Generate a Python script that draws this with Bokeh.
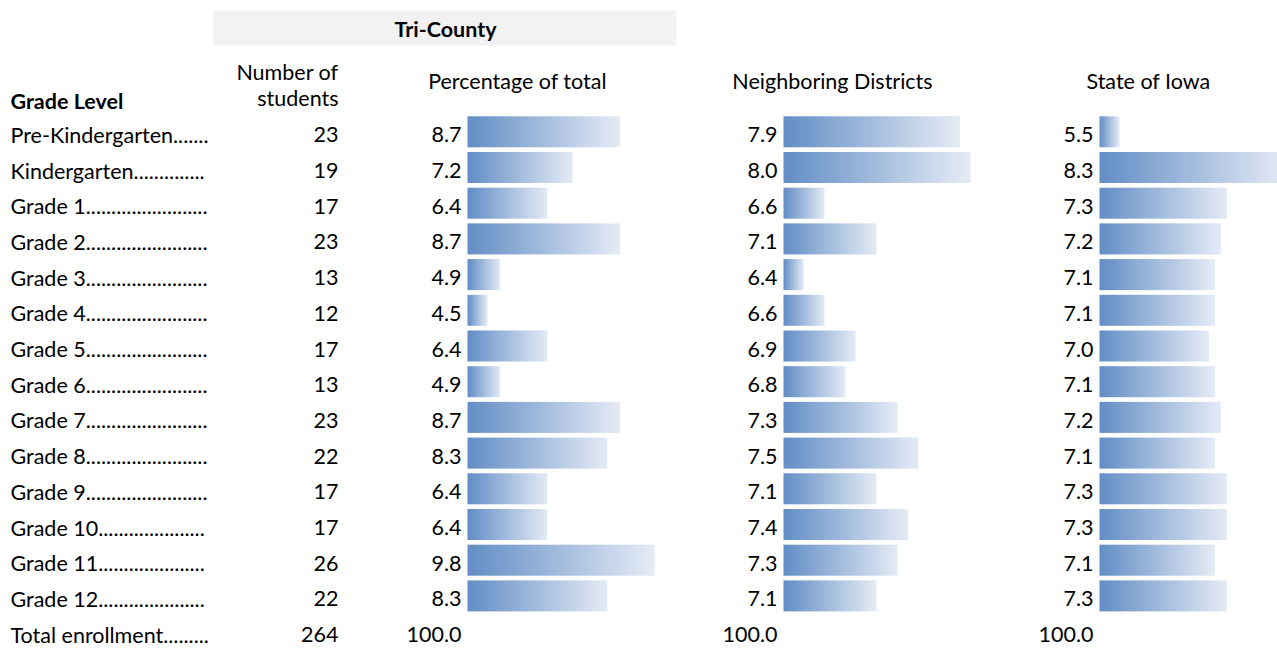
import numpy as np
from bokeh.plotting import figure
from bokeh.models import Range1d, ColumnDataSource
from bokeh.core.properties import value
from bokeh.embed import file_html
from bokeh.resources import INLINE

# ---------------- data ----------------
grade_labels = ["Pre-Kindergarten.......", "Kindergarten..............",
                "Grade 1........................", "Grade 2........................",
                "Grade 3........................", "Grade 4........................",
                "Grade 5........................", "Grade 6........................",
                "Grade 7........................", "Grade 8........................",
                "Grade 9........................", "Grade 10.....................",
                "Grade 11.....................", "Grade 12....................."]
students = [23, 19, 17, 23, 13, 12, 17, 13, 23, 22, 17, 17, 26, 22]
tri_pct = [8.7, 7.2, 6.4, 8.7, 4.9, 4.5, 6.4, 4.9, 8.7, 8.3, 6.4, 6.4, 9.8, 8.3]
neighbor_pct = [7.9, 8.0, 6.6, 7.1, 6.4, 6.6, 6.9, 6.8, 7.3, 7.5, 7.1, 7.4, 7.3, 7.1]
state_pct = [5.5, 8.3, 7.3, 7.2, 7.1, 7.1, 7.0, 7.1, 7.2, 7.1, 7.3, 7.3, 7.1, 7.3]
total_label = "Total enrollment........."
total_students = 264
total_pct = ["100.0", "100.0", "100.0"]
group_title = "Tri-County"
col_titles = ["Percentage of total", "Neighboring Districts", "State of Iowa"]

# ---------------- layout ----------------
FONT = value("Lato")
FS = "21.5px"
W, H = 1277, 649
X0, X1 = 0, W
p = figure(width=W, height=H, x_range=Range1d(X0, X1), y_range=Range1d(H, 0),
           output_backend="svg", toolbar_location=None, min_border=0,
           x_axis_type=None, y_axis_type=None)
p.grid.visible = False
p.outline_line_color = None
p.background_fill_color = "white"
p.border_fill_color = "white"

n = len(students)
PITCH = 35.7
row_y = [131.3 + PITCH * i for i in range(n)]
text_y = [y + 3 for y in row_y]
total_y = row_y[-1] + PITCH + 3

def txt(x, y, t, align="left", bold=False):
    p.text(x=x, y=y, text=t, text_font=FONT, text_font_size=FS,
           text_align=align, text_baseline="middle", text_color="#000000",
           text_font_style="bold" if bold else "normal")

# header band
p.quad(left=213, right=676, top=10, bottom=45, fill_color="#f2f2f2", line_color=None)
txt([445], [28.5], [group_title], align="center", bold=True)
txt([10], [100.5], ["Grade Level"], bold=True)
txt([338, 338], [71.5, 97.5], ["Number of", "students"], align="right")
txt([517, 832, 1148], [80.5, 80.5, 80.5], col_titles, align="center")

# row labels and numbers
txt([10] * n + [10], text_y + [total_y], grade_labels + [total_label])
txt([338] * (n + 1), text_y + [total_y], [str(s) for s in students] + [str(total_students)], align="right")

# gradient image for data bars
N = 256
t = np.linspace(0, 1, N)
c0 = np.array([99, 142, 198])
c1 = np.array([230, 236, 246])
rgb = (c0[None, :] * (1 - t[:, None]) + c1[None, :] * t[:, None]).astype(np.uint32)
img = np.zeros((1, N), dtype=np.uint32)
img[0, :] = rgb[:, 0] | (rgb[:, 1] << 8) | (rgb[:, 2] << 16) | (255 << 24)

BAR_H = 31
columns = [(tri_pct, 467, 461, "tri"), (neighbor_pct, 783, 777, "nb"), (state_pct, 1099, 1093, "st")]
PMIN, PMAX = 20, 187
for k, (vals, L, vx, name) in enumerate(columns):
    mn, mx = min(vals), max(vals)
    s = (PMAX - PMIN) / (mx - mn)          # px per unit
    a = mn - PMIN / s                      # value at bar origin
    start = a - (L - X0) / s
    end = start + (X1 - X0) / s
    p.extra_x_ranges[name] = Range1d(start, end)
    src = ColumnDataSource(dict(
        image=[img] * n,
        x=[(a + v) / 2 for v in vals],
        y=row_y,
        dw=[v - a for v in vals],
        dh=[BAR_H] * n,
    ))
    p.image_rgba(image="image", x="x", y="y", dw="dw", dh="dh", anchor="center",
                 source=src, x_range_name=name)
    txt([vx] * n + [vx], text_y + [total_y], [f"{v:.1f}" for v in vals] + [total_pct[k]], align="right")

open("out.html", "w").write(file_html(p, INLINE))
